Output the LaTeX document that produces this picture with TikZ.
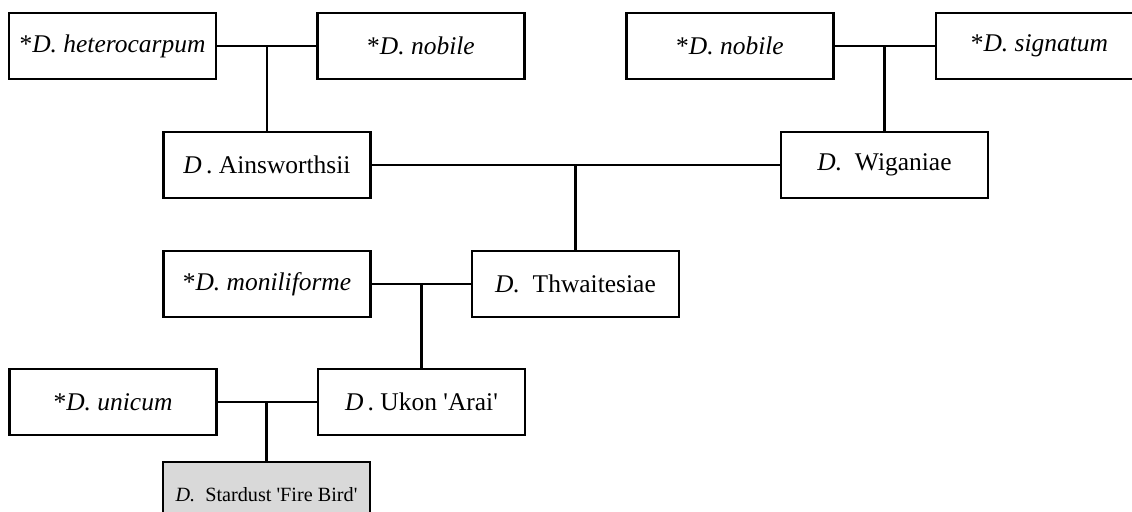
\documentclass[tikz,border=0pt]{standalone}
\usepackage{fontspec}
\setmainfont{Liberation Serif}
\usepackage{xcolor}
\usepackage{tikz}
\usetikzlibrary{positioning}
\definecolor{HybridGray}{RGB}{217, 217, 217}
\newcommand{\sq}{\textquotesingle}

\begin{document}
\begin{tikzpicture}[x=0.02cm, y=-0.02cm, every node/.style={font=\fontsize{14.5}{17}\selectfont},
    plant/.style={draw, line width=1.3pt, fill=white, minimum width=4.14cm, minimum height=1.32cm, inner sep=0pt},
    cross/.style={line width=1.2pt}]
  \useasboundingbox (0,0) rectangle (1132,511);
  \clip (0,0) rectangle (1132,511);
  % parents
  \node[plant] (het) at (112.5,46) {*\textit{D. heterocarpum}};
  \node[plant] (nobL) at (421,46) {*\textit{D. nobile}};
  \node[plant] (nobR) at (730,46) {*\textit{D. nobile}};
  \node[plant] (sig) at (1039.5,46) {*\textit{D. signatum}};
  \node[plant] (ains) at (267,165) {\textit{D}\,. Ainsworthsii};
  \node[plant] (wig) at (884.5,165) {\textit{D.}\enspace Wiganiae};
  \node[plant] (mon) at (267,284) {*\textit{D. moniliforme}};
  \node[plant] (thw) at (575.5,284) {\textit{D.}\enspace Thwaitesiae};
  \node[plant] (uni) at (113,402) {*\textit{D. unicum}};
  \node[plant] (ukon) at (421.5,402) {\textit{D}\,. Ukon \sq Arai\sq};
  \node[plant, fill=HybridGray, font=\fontsize{11.5}{13}\selectfont] (star) at (266.5,495) {\textit{D.}\enspace Stardust \sq Fire Bird\sq};
  % crosses
  \draw[cross] (het) -- (nobL);
  \draw[cross] (ains.north) |- (het.east);
  \draw[cross] (nobR) -- (sig);
  \draw[cross] (wig.north) |- (nobR.east);
  \draw[cross] (ains) -- (wig);
  \draw[cross] (thw.north) |- (ains.east);
  \draw[cross] (mon) -- (thw);
  \draw[cross] (ukon.north) |- (mon.east);
  \draw[cross] (uni) -- (ukon);
  \draw[cross] (star.north) |- (uni.east);
\end{tikzpicture}
\end{document}
